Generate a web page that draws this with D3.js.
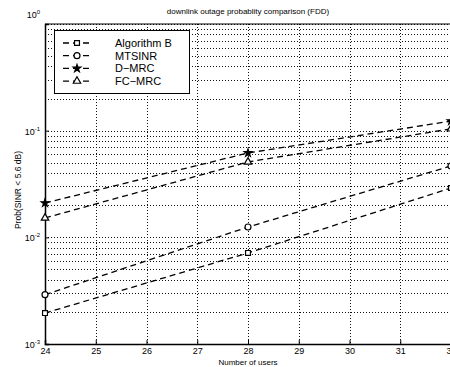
<!DOCTYPE html>
<html>
<head>
<meta charset="utf-8">
<script src="https://cdn.jsdelivr.net/npm/d3@7"></script>
<style>
  body { margin: 0; background: #fff; }
  text { font-family: "Liberation Sans", Arial, sans-serif; fill: #000; }
</style>
</head>
<body>
<script>
// chart data
var users = [24, 28, 32];
var algB = [0.00195, 0.00714, 0.029];
var mtsinr = [0.0029, 0.0125, 0.0467];
var dmrc = [0.021, 0.0618, 0.123];
var fcmrc = [0.0152, 0.0509, 0.104];
var seriesNames = ["Algorithm B", "MTSINR", "D\u2212MRC", "FC\u2212MRC"];
var xTicks = [24, 25, 26, 27, 28, 29, 30, 31, 32];
var yTicks = [1e-3, 1e-2, 1e-1, 1];

var w = 450, h = 367;
var margin = { top: 24, left: 45, bottom: 23, right: -1 };

var svg = d3.select("body").append("svg")
    .attr("width", w)
    .attr("height", h);

svg.append("rect").attr("width", w).attr("height", h).attr("fill", "#fff");

var x = d3.scaleLinear().domain([24, 32]).range([margin.left, w - margin.right]);
var y = d3.scaleLog().domain([1e-3, 1]).range([h - margin.bottom, margin.top]);

// grid
var minor = [];
yTicks.slice(0, 3).forEach(function(d) {
  for (var k = 1; k <= 9; k++) minor.push(d * k);
});
minor.push(1);

var grid = svg.append("g").attr("stroke", "#111").attr("stroke-width", 1)
    .attr("stroke-dasharray", "1,2");
grid.selectAll(".hg").data(minor).enter().append("line")
    .attr("x1", margin.left).attr("x2", w - margin.right)
    .attr("y1", function(d) { return Math.round(y(d)) + 0.5; })
    .attr("y2", function(d) { return Math.round(y(d)) + 0.5; });
grid.selectAll(".vg").data(xTicks).enter().append("line")
    .attr("y1", margin.top).attr("y2", h - margin.bottom)
    .attr("x1", function(d) { return Math.round(x(d)) + 0.5; })
    .attr("x2", function(d) { return Math.round(x(d)) + 0.5; });

// axes
var xAxis = svg.append("g")
    .attr("transform", "translate(0," + (h - margin.bottom) + ")")
    .call(d3.axisBottom(x).tickValues(xTicks).tickSize(-4).tickPadding(4).tickFormat(d3.format("d")));
xAxis.selectAll("text").attr("font-size", 9);

var yAxis = svg.append("g")
    .attr("transform", "translate(" + margin.left + ",0)")
    .call(d3.axisLeft(y).tickValues(yTicks).tickSize(-4).tickPadding(5).tickFormat(""));
svg.selectAll(".domain").attr("stroke", "#000").attr("stroke-width", 1.5);
svg.selectAll(".tick line").attr("stroke", "#000");

// top border
svg.append("line").attr("x1", margin.left).attr("x2", w)
    .attr("y1", margin.top).attr("y2", margin.top)
    .attr("stroke", "#000").attr("stroke-width", 1);

// y tick labels as 10^k
yTicks.forEach(function(d) {
  var e = Math.round(Math.log10(d));
  var t = svg.append("text")
      .attr("x", margin.left - 5)
      .attr("y", y(d) + (e === 0 ? -6 : 4))
      .attr("text-anchor", "end")
      .attr("font-size", 9);
  t.append("tspan").text("10");
  t.append("tspan").attr("dy", -4).attr("font-size", 6).text(e);
});

// lines
var allSeries = [algB, mtsinr, dmrc, fcmrc];
var line = d3.line()
    .x(function(d, i) { return x(users[i]); })
    .y(function(d) { return y(d); });

svg.selectAll(".series").data(allSeries).enter().append("path")
    .attr("d", line)
    .attr("fill", "none")
    .attr("stroke", "#000")
    .attr("stroke-width", 1.3)
    .attr("stroke-dasharray", "6,4");

// markers
var symbols = [
  { type: d3.symbolSquare, size: 24, fill: "#fff" },
  { type: d3.symbolCircle, size: 28, fill: "#fff" },
  { type: d3.symbolStar, size: 18, fill: "#000" },
  { type: d3.symbolTriangle, size: 24, fill: "#fff" }
];

allSeries.forEach(function(s, si) {
  var sym = d3.symbol().type(symbols[si].type).size(symbols[si].size);
  svg.selectAll(".m" + si).data(s).enter().append("path")
      .attr("d", sym)
      .attr("transform", function(d, i) { return "translate(" + x(users[i]) + "," + y(d) + ")"; })
      .attr("fill", symbols[si].fill)
      .attr("stroke", "#000")
      .attr("stroke-width", 1.2);
});

// legend
var lg = svg.append("g");
lg.append("rect")
    .attr("x", 54.5).attr("y", 30.5).attr("width", 135).attr("height", 63)
    .attr("fill", "#fff").attr("stroke", "#000").attr("stroke-width", 1);
seriesNames.forEach(function(name, i) {
  var yy = 43 + i * 12.7;
  lg.append("line").attr("x1", 63).attr("x2", 91).attr("y1", yy).attr("y2", yy)
      .attr("stroke", "#000").attr("stroke-width", 1.3).attr("stroke-dasharray", "6,4");
  lg.append("path")
      .attr("d", d3.symbol().type(symbols[i].type).size(symbols[i].size))
      .attr("transform", "translate(77," + yy + ")")
      .attr("fill", symbols[i].fill).attr("stroke", "#000").attr("stroke-width", 1.2);
  lg.append("text").attr("x", 115).attr("y", yy + 4)
      .attr("font-size", 11).text(name);
});

// titles
svg.append("text").attr("x", 248).attr("y", 14).attr("text-anchor", "middle")
    .attr("font-size", 8).text("downlink outage probablity comparison (FDD)");
svg.append("text").attr("x", 248).attr("y", 365).attr("text-anchor", "middle")
    .attr("font-size", 8).text("Number of users");
svg.append("text")
    .attr("transform", "translate(21,190) rotate(-90)")
    .attr("text-anchor", "middle").attr("font-size", 8.5)
    .text("Prob(SINR < 5.6 dB)");
</script>
</body>
</html>
